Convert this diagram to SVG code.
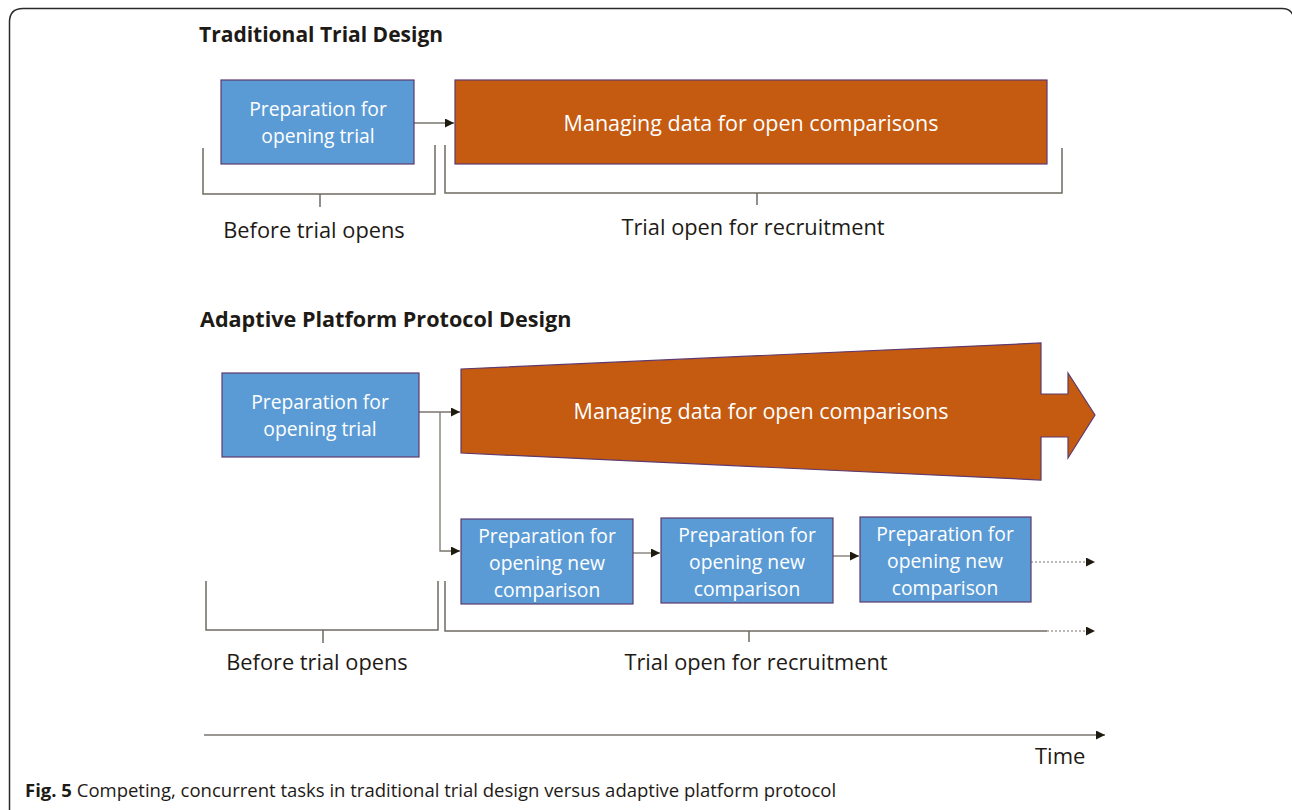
<svg xmlns="http://www.w3.org/2000/svg" width="1292" height="810" viewBox="0 0 1292 810">
<defs>
<style>
.t{font-family:"Open Sans","Liberation Sans",sans-serif;fill:#1e1a16;}
.h{font-weight:bold;font-size:21px;}
.lbl{font-size:21.8px;text-anchor:middle;}
.w{font-family:"Open Sans","Liberation Sans",sans-serif;fill:#fff;text-anchor:middle;font-size:19.3px;}
.wb{font-size:21.5px;}
.blue{fill:#5B9BD5;stroke:#5E3A6E;stroke-width:1.2;}
.orange{fill:#C55A11;stroke:#5E3A6E;stroke-width:1.2;}
.br{fill:none;stroke:#6f6a62;stroke-width:1.5;}
.con{fill:none;stroke:#7a756e;stroke-width:1.3;}
.dot{fill:none;stroke:#7a756e;stroke-width:1.2;stroke-dasharray:2 2;}
</style>
<marker id="ah" viewBox="0 0 10 10" refX="10" refY="5" markerWidth="9" markerHeight="9" markerUnits="userSpaceOnUse" orient="auto">
<path d="M0,0 L10,5 L0,10 z" fill="#1e1a10"/>
</marker>
</defs>
<rect width="1292" height="810" fill="#fff"/>
<path d="M9.5 812 L9.5 22 Q9.5 8.5 23 8.5 L1282 8.5 Q1290 8.5 1293 15" fill="none" stroke="#2a2a2a" stroke-width="1.5"/>

<text class="t h" x="199" y="42">Traditional Trial Design</text>
<text class="t h" x="200" y="327" style="font-size:21.6px">Adaptive Platform Protocol Design</text>

<g id="connectors">
<path class="con" d="M414 123 L454 123" marker-end="url(#ah)"/>
<path class="con" d="M419 412 L460 412" marker-end="url(#ah)"/>
<path class="con" d="M440 412 L440 551 L460 551" marker-end="url(#ah)"/>
<path class="con" d="M633 553 L660 553" marker-end="url(#ah)"/>
<path class="con" d="M833 556 L859 556" marker-end="url(#ah)"/>
<path class="dot" d="M1031 562 L1095 562" marker-end="url(#ah)"/>
<path class="br" d="M203 148 L203 194 L435 194 L435 145 M320 194 L320 207"/>
<path class="br" d="M445 145 L445 193 L1062 193 L1062 148 M757 193 L757 205"/>
<path class="br" d="M206 581 L206 630 L438 630 L438 581 M323 630 L323 643"/>
<path class="br" d="M445 581 L445 631 L1047 631 M749 631 L749 642"/>
<path class="dot" d="M1047 631 L1095 631" marker-end="url(#ah)"/>
<path class="con" d="M204 735 L1105 735" marker-end="url(#ah)"/>
</g>

<g id="prep1">
<rect class="blue" x="221" y="80" width="193" height="84"/>
<text class="w" x="318" y="116">Preparation for</text>
<text class="w" x="318" y="143">opening trial</text>
</g>
<g id="manage1">
<rect class="orange" x="455" y="80" width="592" height="84"/>
<text class="w wb" x="751" y="131">Managing data for open comparisons</text>
</g>
<g id="before1"><text class="t lbl" x="314" y="238">Before trial opens</text></g>
<g id="open1"><text class="t lbl" x="753" y="235">Trial open for recruitment</text></g>

<g id="prep2">
<rect class="blue" x="222" y="373" width="197" height="84"/>
<text class="w" x="320" y="409">Preparation for</text>
<text class="w" x="320" y="436">opening trial</text>
</g>
<g id="manage2">
<path class="orange" d="M461 369 L1041 343 L1041 394 L1068 394 L1068 373 L1095 415 L1068 458 L1068 437 L1041 437 L1041 480 L461 453 Z"/>
<text class="w wb" x="761" y="419">Managing data for open comparisons</text>
</g>
<g id="new1">
<rect class="blue" x="461" y="519" width="172" height="85"/>
<text class="w" x="547" y="543">Preparation for</text>
<text class="w" x="547" y="570">opening new</text>
<text class="w" x="547" y="597">comparison</text>
</g>
<g id="new2">
<rect class="blue" x="661" y="518" width="172" height="85"/>
<text class="w" x="747" y="542">Preparation for</text>
<text class="w" x="747" y="569">opening new</text>
<text class="w" x="747" y="596">comparison</text>
</g>
<g id="new3">
<rect class="blue" x="860" y="517" width="171" height="85"/>
<text class="w" x="945" y="541">Preparation for</text>
<text class="w" x="945" y="568">opening new</text>
<text class="w" x="945" y="595">comparison</text>
</g>
<g id="before2"><text class="t lbl" x="317" y="670">Before trial opens</text></g>
<g id="open2"><text class="t lbl" x="756" y="670">Trial open for recruitment</text></g>
<g id="time"><text class="t" x="1035" y="764" font-size="22">Time</text></g>
<g id="caption">
<text class="t" x="25" y="797" font-size="18.5"><tspan font-weight="bold">Fig. 5</tspan> Competing, concurrent tasks in traditional trial design versus adaptive platform protocol</text>
</g>
</svg>
